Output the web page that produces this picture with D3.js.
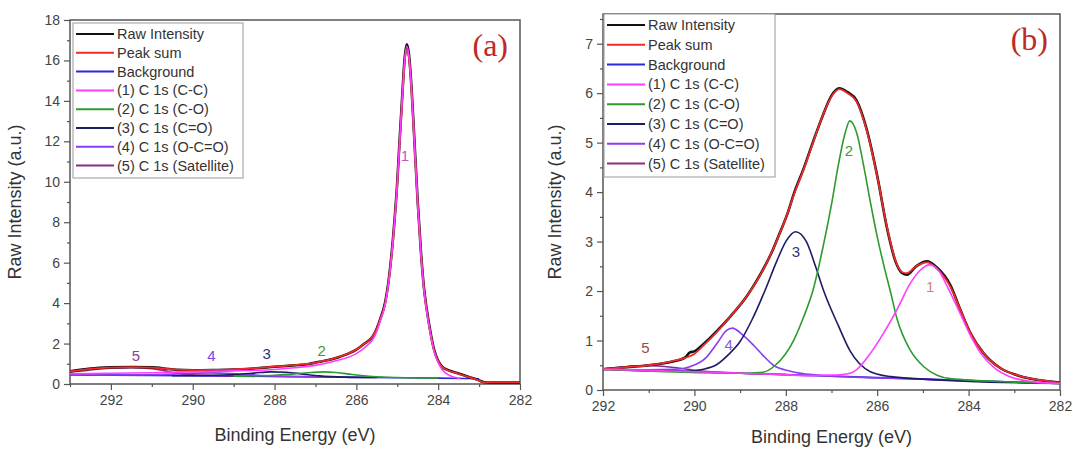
<!DOCTYPE html>
<html lang="en">
<head>
<meta charset="UTF-8">
<title>C 1s XPS fits</title>
<script src="https://d3js.org/d3.v7.min.js"></script>
<style>
  body { margin: 0; background: #fff; }
</style>
</head>
<body>
<svg id="chart" width="1073" height="449" font-family="Liberation Sans, Arial, sans-serif"></svg>
<script>
// ---- data: [binding energy (eV), intensity (a.u.)] ----
const legendLabels = ["Raw Intensity", "Peak sum", "Background", "(1) C 1s (C-C)",
  "(2) C 1s (C-O)", "(3) C 1s (C=O)", "(4) C 1s (O-C=O)", "(5) C 1s (Satellite)"];

const aXTicks = [292, 290, 288, 286, 284, 282];
const aYTicks = [0, 2, 4, 6, 8, 10, 12, 14, 16, 18];
const bXTicks = [292, 290, 288, 286, 284, 282];
const bYTicks = [0, 1, 2, 3, 4, 5, 6, 7];

// panel (a)
const aRaw = [[293,0.63],[292.5,0.76],[292,0.82],[291.5,0.84],[291,0.82],[290.7,0.77],[290.4,0.7],[290,0.68],
  [289.5,0.69],[289,0.71],[288.5,0.77],[288,0.85],[287.6,0.91],[287.2,0.98],[286.9,1.1],[286.6,1.22],
  [286.4,1.35],[286.2,1.5],[286,1.7],[285.8,2.0],[285.6,2.35],[285.5,2.75],[285.42,3.2],[285.3,4.0],
  [285.2,5.3],[285.1,7.3],[285,10.0],[284.95,11.8],[284.88,14.2],[284.82,16.1],[284.77,16.8],[284.72,16.4],
  [284.65,14.6],[284.58,12.0],[284.5,9.0],[284.42,6.5],[284.35,4.8],[284.28,3.7],[284.2,2.7],[284.1,1.7],
  [284,1.15],[283.9,0.85],[283.75,0.68],[283.5,0.52],[283.25,0.35],[283,0.18],[282.9,0.1],[282.7,0.07],[282,0.07]];
const aSum = [[293,0.62],[292.5,0.75],[292,0.81],[291.5,0.83],[291,0.81],[290.7,0.76],[290.4,0.71],[290,0.69],
  [289.5,0.7],[289,0.72],[288.5,0.78],[288,0.86],[287.6,0.92],[287.2,0.99],[286.9,1.1],[286.6,1.23],
  [286.4,1.36],[286.2,1.51],[286,1.71],[285.8,2.0],[285.6,2.36],[285.5,2.74],[285.42,3.18],[285.3,3.95],
  [285.2,5.25],[285.1,7.2],[285,9.9],[284.95,11.6],[284.88,14.0],[284.82,15.9],[284.77,16.5],[284.72,16.2],
  [284.65,14.5],[284.58,11.9],[284.5,8.9],[284.42,6.45],[284.35,4.75],[284.28,3.65],[284.2,2.65],[284.1,1.68],
  [284,1.13],[283.9,0.84],[283.75,0.67],[283.5,0.5],[283.25,0.34],[283,0.17],[282.9,0.09],[282.7,0.08],[282,0.08]];
const aBackground = [[293,0.45],[291,0.42],[289,0.39],[287,0.35],[285,0.31],[284,0.29],[283,0.26]];
const aPeak1 = [[293,0.5],[292,0.53],[291,0.56],[290,0.6],[289,0.65],[288,0.72],[287.5,0.8],[287,0.92],
  [286.5,1.15],[286,1.5],[285.8,1.8],[285.6,2.2],[285.5,2.6],[285.42,3.1],[285.3,3.9],[285.2,5.2],[285.1,7.2],
  [285,9.9],[284.95,11.7],[284.88,14.1],[284.82,16.0],[284.77,16.7],[284.72,16.3],[284.65,14.5],[284.58,11.9],
  [284.5,8.9],[284.42,6.4],[284.35,4.7],[284.28,3.6],[284.2,2.6],[284.1,1.6],[284,1.05],[283.9,0.7],
  [283.75,0.45],[283.6,0.33],[283.46,0.27]];
const aPeak2 = [[289,0.39],[288.5,0.4],[288,0.43],[287.5,0.5],[287.1,0.57],[286.8,0.6],[286.5,0.57],
  [286.1,0.47],[285.6,0.37],[285,0.32],[284,0.29]];
const aPeak3 = [[290.5,0.41],[289.5,0.43],[289,0.47],[288.5,0.54],[288.1,0.6],[287.7,0.58],[287.3,0.49],
  [286.9,0.4],[286.3,0.34],[285.5,0.32]];
const aPeak4 = [[292.5,0.45],[291.5,0.45],[291,0.46],[290.5,0.49],[290,0.53],[289.6,0.55],[289.2,0.53],
  [288.7,0.47],[288.2,0.41],[287.5,0.37],[286.5,0.34]];
const aPeak5 = [[293,0.58],[292.5,0.7],[292,0.78],[291.5,0.8],[291,0.76],[290.7,0.66],[290.4,0.53],
  [290,0.45],[289.5,0.42],[289,0.4]];
const aPeakNames = ["1", "2", "3", "4", "5"];
const aPeakSpots = [[284.81,11.3],[286.85,1.65],[288.19,1.52],[289.54,1.39],[291.39,1.39]];

// panel (b)
const bRaw = [[292,0.42],[291.5,0.46],[291,0.5],[290.5,0.57],[290.2,0.66],[290.1,0.76],[290,0.78],[289.8,0.93],
  [289.5,1.2],[289.2,1.5],[288.85,1.9],[288.61,2.25],[288.3,2.8],[288.12,3.2],[287.95,3.6],[287.83,3.95],
  [287.6,4.5],[287.41,5.0],[287.19,5.55],[287,5.95],[286.83,6.1],[286.65,6.02],[286.45,5.85],[286.23,5.27],
  [286,4.33],[285.78,3.25],[285.6,2.6],[285.45,2.36],[285.35,2.33],[285.15,2.5],[284.91,2.6],[284.7,2.48],
  [284.4,2.12],[284.18,1.62],[283.96,1.15],[283.67,0.74],[283.3,0.44],[282.94,0.3],[282.2,0.17],[282,0.15]];
const bSum = [[292,0.42],[291.5,0.46],[291,0.5],[290.5,0.58],[290.2,0.65],[290,0.73],[289.8,0.9],
  [289.5,1.18],[289.2,1.5],[288.85,1.9],[288.61,2.24],[288.3,2.8],[288.12,3.19],[287.95,3.6],[287.83,3.93],
  [287.6,4.48],[287.41,4.98],[287.19,5.55],[287,5.93],[286.83,6.08],[286.65,6.0],[286.45,5.83],[286.23,5.25],
  [286,4.32],[285.78,3.27],[285.6,2.62],[285.45,2.38],[285.35,2.36],[285.15,2.5],[284.91,2.58],[284.7,2.46],
  [284.4,2.09],[284.18,1.62],[283.96,1.15],[283.67,0.74],[283.3,0.44],[282.94,0.3],[282.2,0.17],[282,0.15]];
const bBackground = [[292,0.42],[291,0.4],[290,0.37],[289,0.34],[288,0.31],[287,0.28],[286,0.25],
  [285,0.22],[284,0.19],[283,0.16],[282,0.13]];
const bPeak1 = [[292,0.42],[290,0.37],[288,0.31],[287.5,0.29],[287,0.3],[286.59,0.34],[286.15,0.74],
  [285.86,1.15],[285.57,1.62],[285.28,2.15],[285.06,2.42],[284.86,2.53],[284.66,2.42],[284.45,2.06],
  [284.2,1.58],[283.97,1.12],[283.7,0.7],[283.4,0.42],[283.1,0.27],[282.7,0.18],[282,0.13]];
const bPeak2 = [[292,0.42],[289,0.34],[288.5,0.36],[288.23,0.5],[287.83,1.0],[287.6,1.5],[287.41,2.0],
  [287.19,2.87],[287,3.75],[286.85,4.55],[286.7,5.2],[286.6,5.44],[286.45,5.2],[286.3,4.55],[286.15,3.8],
  [286,3.1],[285.85,2.5],[285.7,1.95],[285.57,1.45],[285.28,0.81],[284.98,0.47],[284.69,0.3],[284.4,0.23],
  [283,0.16],[282,0.13]];
const bPeak3 = [[292,0.42],[290.6,0.38],[290.2,0.38],[289.8,0.42],[289.5,0.52],[289.25,0.72],[289,0.98],
  [288.75,1.4],[288.46,2.0],[288.2,2.6],[288,3.0],[287.79,3.2],[287.55,3.0],[287.35,2.5],[287.17,2.0],
  [286.85,1.3],[286.6,0.8],[286.15,0.37],[285.7,0.27],[285,0.22],[282,0.13]];
const bPeak4 = [[292,0.42],[291,0.41],[290.4,0.42],[290.1,0.47],[289.75,0.65],[289.5,0.95],[289.3,1.2],
  [289.17,1.25],[288.95,1.12],[288.7,0.9],[288.5,0.7],[288.27,0.5],[287.9,0.38],[287.3,0.3],[286.5,0.26],
  [285,0.22],[282,0.13]];
const bPeak5 = [[292,0.43],[291.5,0.47],[291,0.49],[290.5,0.46],[290,0.4],[289,0.34],[288,0.31]];
const bPeakNames = ["1", "2", "3", "4", "5"];
const bPeakSpots = [[284.84,2.09],[286.62,4.85],[287.78,2.79],[289.25,0.91],[291.07,0.86]];

// ---- drawing ----
const svg = d3.select("#chart");
const lineColors = ["#111111", "#ee2a2a", "#2a2ad8", "#ff3cff", "#2f9a2f", "#1c1c66", "#8a3cf0", "#8a2a86"];

function panel(opt) {
  const x = d3.scaleLinear().domain(opt.xDomain).range([opt.left, opt.right]);
  const y = d3.scaleLinear().domain(opt.yDomain).range([opt.bottom, opt.top]);
  const g = svg.append("g");
  const line = d3.line().x(d => x(d[0])).y(d => y(d[1])).curve(d3.curveMonotoneX);

  // minor ticks
  g.append("g").attr("transform", `translate(0,${opt.bottom})`)
    .call(d3.axisBottom(x).tickValues(opt.xMinor).tickSize(3).tickFormat(""))
    .call(s => s.select(".domain").remove());
  g.append("g").attr("transform", `translate(${opt.left},0)`)
    .call(d3.axisLeft(y).tickValues(opt.yMinor).tickSize(3).tickFormat(""))
    .call(s => s.select(".domain").remove());

  // major ticks + labels
  const xa = g.append("g").attr("transform", `translate(0,${opt.bottom})`)
    .call(d3.axisBottom(x).tickValues(opt.xTicks).tickSize(6).tickPadding(5).tickFormat(d3.format("d")));
  const ya = g.append("g").attr("transform", `translate(${opt.left},0)`)
    .call(d3.axisLeft(y).tickValues(opt.yTicks).tickSize(6).tickPadding(4).tickFormat(d3.format("d")));
  [xa, ya].forEach(a => {
    a.attr("font-family", null);
    a.selectAll("text").attr("font-size", 14).attr("fill", "#444");
    a.select(".domain").remove();
  });
  g.selectAll(".tick line").attr("stroke", "#555").attr("stroke-width", 1.2);

  // frame
  g.append("rect").attr("x", opt.left).attr("y", opt.top)
    .attr("width", opt.right - opt.left).attr("height", opt.bottom - opt.top)
    .attr("fill", "none").attr("stroke", "#555").attr("stroke-width", 1.5);

  // curves
  const clip = "clip" + opt.id;
  svg.append("clipPath").attr("id", clip).append("rect")
    .attr("x", opt.left).attr("y", opt.top).attr("width", opt.right - opt.left).attr("height", opt.bottom - opt.top);
  const plot = g.append("g").attr("clip-path", `url(#${clip})`);
  const order = [2, 7, 6, 5, 4, 0, 1, 3];
  order.forEach(i => {
    plot.append("path").datum(opt.series[i]).attr("d", line)
      .attr("fill", "none").attr("stroke", lineColors[i])
      .attr("stroke-width", i === 0 ? 2.6 : i === 1 ? 1.8 : 1.6).attr("stroke-linejoin", "round");
  });

  // peak numbers
  plot.selectAll("text.peak").data(opt.peakNames).join("text")
    .attr("x", (d, i) => x(opt.peakSpots[i][0])).attr("y", (d, i) => y(opt.peakSpots[i][1]))
    .attr("text-anchor", "middle").attr("dominant-baseline", "central")
    .attr("font-size", 15).attr("fill", (d, i) => opt.peakColors[i]).text(d => d);

  // axis titles
  g.append("text").attr("x", (opt.left + opt.right) / 2).attr("y", opt.titleY)
    .attr("text-anchor", "middle").attr("font-size", 18).attr("fill", "#333").text("Binding Energy (eV)");
  g.append("text").attr("transform", `translate(${opt.yTitleX},${(opt.top + opt.bottom) / 2}) rotate(-90)`)
    .attr("text-anchor", "middle").attr("dominant-baseline", "central")
    .attr("font-size", 18).attr("fill", "#333").text("Raw Intensity (a.u.)");

  // panel tag
  g.append("text").attr("x", opt.right - 12).attr("y", opt.top + 36).attr("text-anchor", "end")
    .attr("font-family", "Liberation Serif, Times New Roman, serif").attr("font-size", 32)
    .attr("fill", "#c0282a").text(opt.tag);

  // legend
  const lg = g.append("g");
  lg.append("rect").attr("x", opt.legend.x).attr("y", opt.legend.y)
    .attr("width", opt.legend.w).attr("height", opt.legend.h)
    .attr("fill", "#fff").attr("stroke", "#999").attr("stroke-width", 1);
  legendLabels.forEach((lab, i) => {
    const ry = opt.legend.y + 11 + i * opt.legend.step;
    lg.append("line").attr("x1", opt.legend.x + 3).attr("x2", opt.legend.x + 41)
      .attr("y1", ry).attr("y2", ry).attr("stroke", lineColors[i]).attr("stroke-width", 2);
    lg.append("text").attr("x", opt.legend.x + 44).attr("y", ry).attr("dominant-baseline", "central")
      .attr("font-size", 14.5).attr("fill", "#333").text(lab);
  });
}

panel({
  id: "a", tag: "(a)", left: 70, right: 520, top: 20, bottom: 384, yTitleX: 15, titleY: 441,
  xDomain: [293, 282], yDomain: [0, 18],
  xTicks: aXTicks, yTicks: aYTicks,
  xMinor: [293, 291, 289, 287, 285, 283], yMinor: [1, 3, 5, 7, 9, 11, 13, 15, 17],
  series: [aRaw, aSum, aBackground, aPeak1, aPeak2, aPeak3, aPeak4, aPeak5],
  peakNames: aPeakNames, peakSpots: aPeakSpots,
  peakColors: ["#c855c8", "#3c9a3c", "#2d3570", "#7b44e8", "#8e3c9e"],
  legend: { x: 73, y: 23, w: 170, h: 155, step: 18.8 }
});

panel({
  id: "b", tag: "(b)", left: 603, right: 1060, top: 14, bottom: 390, yTitleX: 555, titleY: 443,
  xDomain: [292, 282], yDomain: [0, 7.6],
  xTicks: bXTicks, yTicks: bYTicks,
  xMinor: [291, 289, 287, 285, 283], yMinor: [0.5, 1.5, 2.5, 3.5, 4.5, 5.5, 6.5, 7.5],
  series: [bRaw, bSum, bBackground, bPeak1, bPeak2, bPeak3, bPeak4, bPeak5],
  peakNames: bPeakNames, peakSpots: bPeakSpots,
  peakColors: ["#d08080", "#3c9a3c", "#303870", "#8a5ad8", "#a04848"],
  legend: { x: 604, y: 14, w: 171, h: 163, step: 19.8 }
});
</script>
</body>
</html>
